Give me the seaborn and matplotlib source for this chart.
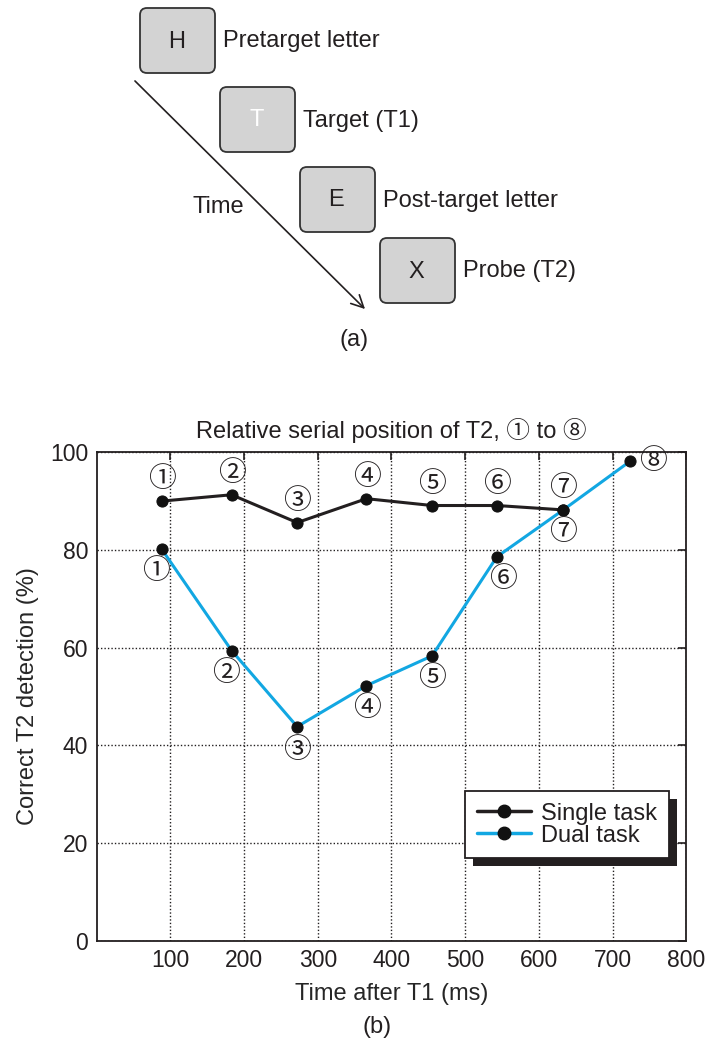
import matplotlib
matplotlib.use("Agg")
import matplotlib.pyplot as plt
import seaborn as sns
import pandas as pd
from matplotlib.patches import FancyBboxPatch, Rectangle
from matplotlib.lines import Line2D

# ---------------- data ----------------
circled = ["①", "②", "③", "④", "⑤", "⑥", "⑦", "⑧"]
time_single = [88, 183, 272, 366, 455, 543, 633]
pct_single = [90.0, 91.3, 85.6, 90.5, 89.1, 89.1, 88.2]
time_dual = [88, 183, 272, 366, 455, 543, 633, 724]
pct_dual = [80.2, 59.4, 43.8, 52.2, 58.3, 78.6, 88.2, 98.2]
series_names = ["Single task", "Dual task"]
x_ticks = [100, 200, 300, 400, 500, 600, 700, 800]
y_ticks = [0, 20, 40, 60, 80, 100]

letters = ["H", "T", "E", "X"]
letter_labels = ["Pretarget letter", "Target (T1)", "Post-target letter", "Probe (T2)"]

# label offsets (pixels) for circled numbers
off_single = [(0, 22)] * 7
off_dual = [(-6, -22), (-6, -22), (0, -23), (0, -22), (0, -22), (6, -22), (0, -22), (23, 0)]

sns.set_theme(style="white")
plt.rcParams["font.family"] = ["Liberation Sans", "DejaVu Sans"]
plt.rcParams["text.color"] = "#231f20"

FS = 17
W, H = 708, 1042
fig = plt.figure(figsize=(W / 100, H / 100), dpi=100)

# ---------------- panel (a): diagram ----------------
top_h = 360
axa = fig.add_axes([0, 1 - top_h / H, 1, top_h / H])
axa.set_xlim(0, W)
axa.set_ylim(top_h, 0)
axa.axis("off")

box_x = [140, 220, 300, 380]
box_y = [8, 87, 167, 238]
bw, bh = 75, 65
for i, (bx, by) in enumerate(zip(box_x, box_y)):
    p = FancyBboxPatch((bx, by), bw, bh, boxstyle="round,pad=0,rounding_size=7",
                       facecolor="#d3d3d3", edgecolor="#333333", linewidth=1.3)
    axa.add_patch(p)
    axa.text(bx + bw / 2 - 1, by + bh / 2 + 1, letters[i], ha="center", va="center",
             fontsize=FS, color="white" if letters[i] == "T" else "#231f20")
    axa.text(bx + bw + 8, by + bh / 2 + 1, letter_labels[i], ha="left", va="center",
             fontsize=FS, color="#231f20")

axa.annotate("", xy=(367, 311), xytext=(133, 79),
             arrowprops=dict(arrowstyle="->", lw=1.2, color="#231f20", mutation_scale=22))
axa.text(218, 207, "Time", ha="center", va="center", fontsize=FS)
axa.text(354, 340, "(a)", ha="center", va="center", fontsize=FS)

# ---------------- panel (b): line chart ----------------
ax_l, ax_r, ax_t, ax_b = 96.7, 686.3, 452.3, 940.5
ax = fig.add_axes([ax_l / W, 1 - ax_b / H, (ax_r - ax_l) / W, (ax_b - ax_t) / H])

df = pd.concat([
    pd.DataFrame({"time": time_single, "pct": pct_single, "task": series_names[0]}),
    pd.DataFrame({"time": time_dual, "pct": pct_dual, "task": series_names[1]}),
])
palette = {"Single task": "#231f20", "Dual task": "#12a7e2"}
sns.lineplot(data=df, x="time", y="pct", hue="task", palette=palette,
             hue_order=series_names, marker="o", markersize=8,
             markerfacecolor="#111111", markeredgecolor="#111111",
             linewidth=2.2, legend=False, ax=ax, sort=False, zorder=3)

ax.set_xlim(0, 800)
ax.set_ylim(0, 100)
ax.set_xticks(x_ticks)
ax.set_yticks(y_ticks)
ax.grid(True, linestyle=(0, (1, 1.5)), color="#231f20", linewidth=1.0)
ax.tick_params(direction="in", top=True, right=True, length=6, width=1.2,
               labelsize=16.5, pad=6, colors="#231f20")
for s in ax.spines.values():
    s.set_color("#231f20")
    s.set_linewidth(1.3)
ax.set_xlabel("Time after T1 (ms)", fontsize=FS, labelpad=8)
ax.set_ylabel("Correct T2 detection (%)", fontsize=FS, labelpad=8)
ax.set_title("Relative serial position of T2, ① to ⑧", fontsize=FS, pad=10,
             fontfamily=["Liberation Sans", "Noto Sans CJK JP"])

for i, (x, y) in enumerate(zip(time_single, pct_single)):
    ax.annotate(circled[i], (x, y), xytext=off_single[i], textcoords="offset pixels",
                ha="center", va="center", fontsize=20, zorder=4,
                fontfamily="Noto Sans CJK JP")
for i, (x, y) in enumerate(zip(time_dual, pct_dual)):
    ax.annotate(circled[i], (x, y), xytext=off_dual[i], textcoords="offset pixels",
                ha="center", va="center", fontsize=20, zorder=4,
                fontfamily="Noto Sans CJK JP")

handles = [Line2D([], [], color=palette[n], lw=2.5, marker="o", markersize=9,
                  markerfacecolor="#111111", markeredgecolor="#111111") for n in series_names]
leg = ax.legend(handles, series_names, loc="lower right", bbox_to_anchor=(0.97, 0.168),
                borderaxespad=0, fancybox=False, framealpha=1, edgecolor="#231f20",
                fontsize=FS, handlelength=2.3, labelspacing=0.0, handletextpad=0.4,
                borderpad=0.5)
leg.get_frame().set_linewidth(1.3)
leg.set_zorder(6)

fig.canvas.draw()
bb = leg.get_window_extent()
off = 8
shadow = Rectangle((bb.x0 + off, bb.y0 - off), bb.width, bb.height,
                   transform=None, facecolor="#231f20", edgecolor="none", zorder=5)
fig.add_artist(shadow)
leg.remove()
fig.add_artist(leg)

fig.text(377 / W, 1 - 1027 / H, "(b)", ha="center", va="center", fontsize=FS)

fig.savefig("out.png", dpi=100)
